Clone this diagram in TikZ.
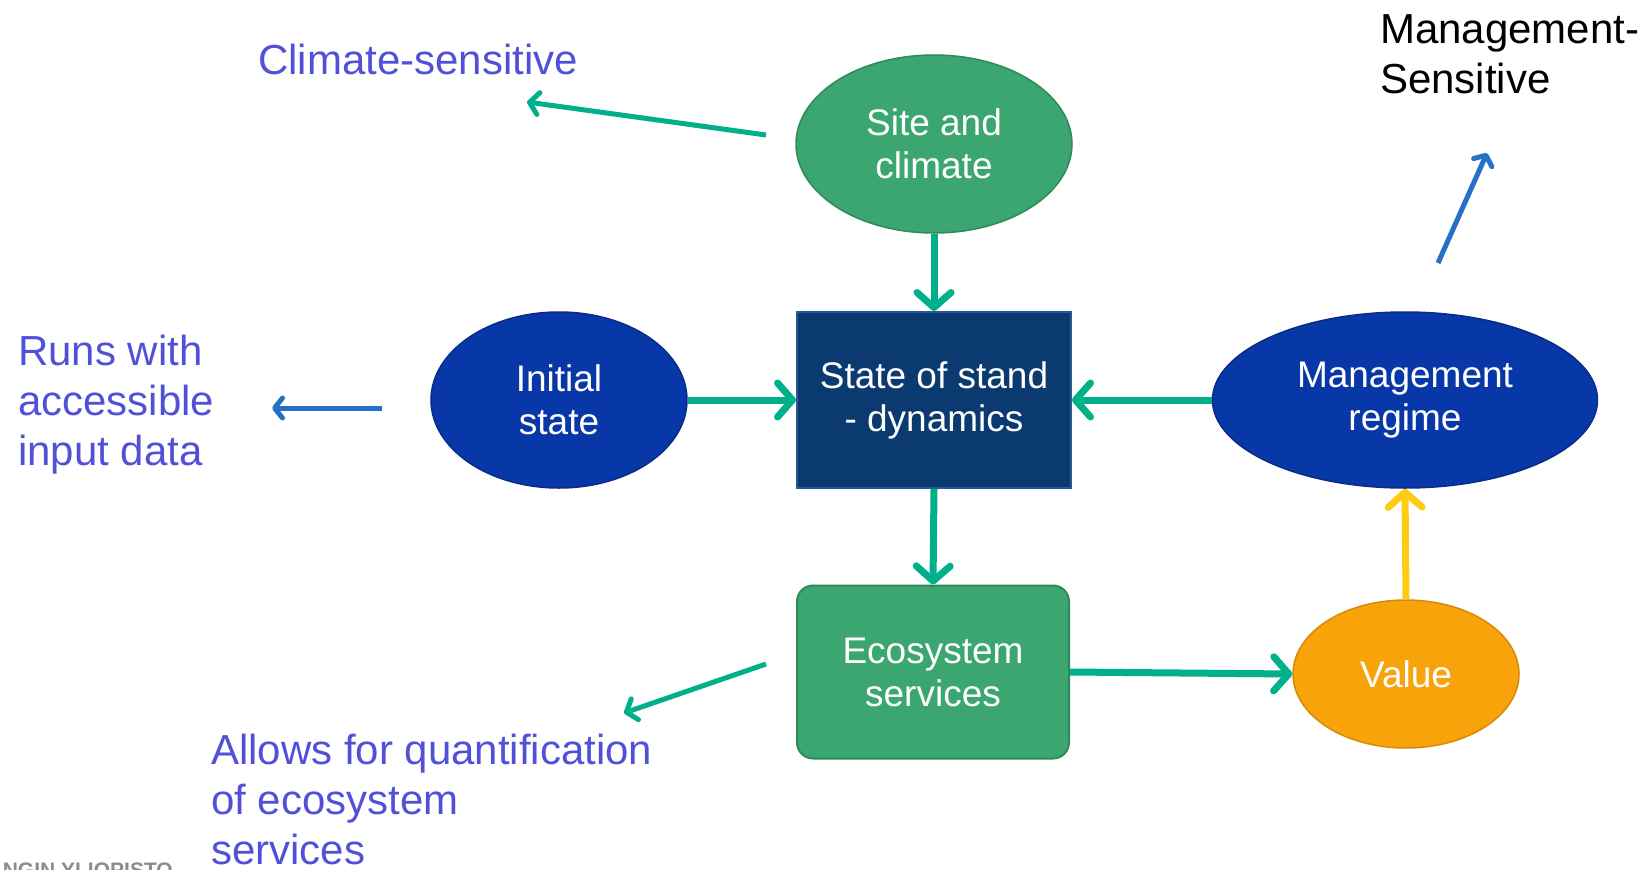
\documentclass[tikz,border=0pt]{standalone}
\usepackage{fontspec}
\setmainfont{Liberation Sans}
\usetikzlibrary{shapes.geometric,arrows.meta}
\definecolor{nodegreen}{HTML}{3BA670}
\definecolor{nodegreenD}{HTML}{2E8A5A}
\definecolor{arrgreen}{HTML}{00B08A}
\definecolor{navy}{HTML}{0A3A70}
\definecolor{navyL}{HTML}{2A5A94}
\definecolor{royal}{HTML}{0838A8}
\definecolor{royalD}{HTML}{062C88}
\definecolor{orangeV}{HTML}{F9A30B}
\definecolor{orangeD}{HTML}{D88A05}
\definecolor{yel}{HTML}{FFCC14}
\definecolor{annblue}{HTML}{2670C8}
\definecolor{violet}{HTML}{5050D8}
\begin{document}
\begin{tikzpicture}[x=1pt,y=-1pt,
  lbl/.style={text=white,align=center,font=\fontsize{37}{43}\selectfont},
  ell/.style={ellipse,inner sep=0pt,line width=1.5pt},
  boxn/.style={rectangle,inner sep=0pt,line width=2pt},
  bigarrow/.style={line width=7pt,-{Straight Barb[length=15pt,width=34pt,line cap=round,line join=round]}},
  smallarrow/.style={line width=5pt,-{Straight Barb[length=9pt,width=22pt,line cap=round,line join=round]}},
  thinarrow/.style={line width=5pt,-{Straight Barb[length=8pt,width=20pt,line cap=round,line join=round]}},
  ann/.style={text=violet,align=left,anchor=base west,inner sep=0pt,font=\fontsize{42}{50}\selectfont}]
\useasboundingbox (0,0) rectangle (1652,870);
\fill[white] (0,0) rectangle (1652,870);
\clip (0,0) rectangle (1652,870);

% nodes
\node[ell,fill=nodegreen,draw=nodegreenD,minimum width=276pt,minimum height=178pt,lbl] (site) at (934,144) {Site and\\climate};
\node[boxn,fill=navy,draw=navyL,minimum width=274pt,minimum height=176pt,lbl] (state) at (934,400) {State of stand\\- dynamics};
\node[boxn,rounded corners=16pt,fill=nodegreen,draw=nodegreenD,minimum width=272pt,minimum height=173pt,lbl] (eco) at (933,672) {Ecosystem\\services};
\node[ell,fill=royal,draw=royalD,minimum width=256pt,minimum height=176pt,lbl] (init) at (559,400) {Initial\\state};
\node[ell,fill=royal,draw=royalD,minimum width=385pt,minimum height=176pt,lbl] (mgmt) at (1405,400) {Management\\regime};
\node[ell,fill=orangeV,draw=orangeD,minimum width=226pt,minimum height=148pt,lbl] (value) at (1406,674) {Value};

% main connectors
\draw[bigarrow,arrgreen] (site.south) -- (state.north);
\draw[bigarrow,arrgreen] (init.east) -- (state.west);
\draw[bigarrow,arrgreen] (mgmt.west) -- (state.east);
\draw[bigarrow,arrgreen] (state.south) -- (eco.north);
\draw[bigarrow,arrgreen] (eco.east) -- (value.west);
\draw[bigarrow,yel] (value.north) -- (mgmt.south);

% annotations (base = baseline of last line)
\node[ann] (clim) at (258,74) {Climate-sensitive};
\node[ann] (runs) at (18,465) {Runs with\\accessible\\input data};
\node[ann] (allows) at (211,864) {Allows for quantification\\of ecosystem\\services};
\node[ann,text=black] (msens) at (1380,93) {Management-\\Sensitive};
\node[anchor=north east,inner sep=0pt,text=black!45,font=\bfseries\fontsize{21}{21}\selectfont] (logo) at (173,863) {NGIN YLIOPISTO};

\coordinate (c1s) at (766,135); \coordinate (c1e) at (527,102);
\coordinate (c2s) at (382,408); \coordinate (c2e) at (272,408);
\coordinate (c3s) at (766,664); \coordinate (c3e) at (624,713);
\coordinate (c4s) at (1438,263); \coordinate (c4e) at (1487,153);
\draw[smallarrow,arrgreen] (c1s) -- (c1e);
\draw[thinarrow,annblue] (c2s) -- (c2e);
\draw[smallarrow,arrgreen] (c3s) -- (c3e);
\draw[thinarrow,annblue] (c4s) -- (c4e);
\end{tikzpicture}
\end{document}
